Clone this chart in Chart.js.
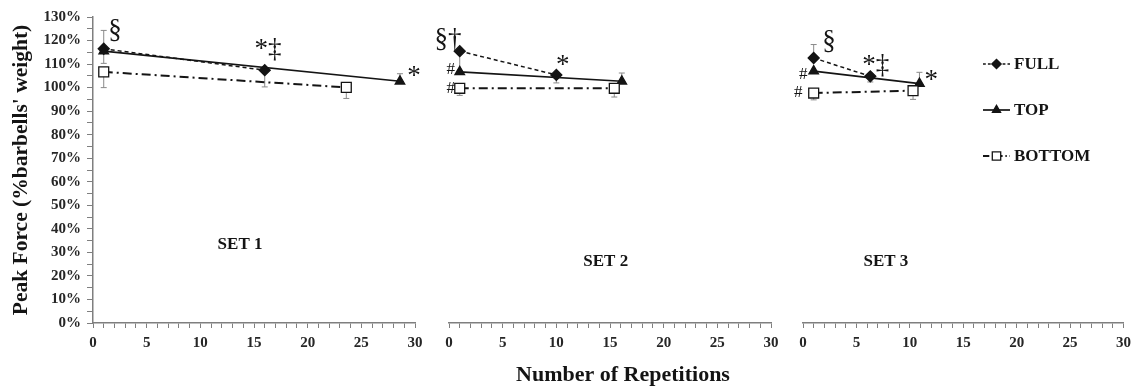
<!DOCTYPE html>
<html>
<head>
  <title>Peak Force by Repetition</title>
  <script src="https://cdn.jsdelivr.net/npm/chart.js"></script>
  <style>
    body { margin: 0; background: #fff; }
    #wrap { position: relative; width: 1137px; height: 387px; }
    #wrap canvas { position: absolute; left: 0; top: 0; }
  </style>
</head>
<body>
  <div id="wrap">
    <canvas id="set1Canvas" width="1137" height="387"></canvas>
    <canvas id="set2Canvas" width="1137" height="387"></canvas>
    <canvas id="set3Canvas" width="1137" height="387"></canvas>
  </div>

  <script>
    // series order everywhere: FULL, TOP, BOTTOM
    const seriesNames = ['FULL', 'TOP', 'BOTTOM'];
    const setNames = ['SET 1', 'SET 2', 'SET 3'];
    const xTitle = 'Number of Repetitions';
    const yTitle = "Peak Force (%barbells' weight)";

    const set1Reps    = [[1, 16], [1, 28.6], [1, 23.6]];
    const set1Force   = [[116.5, 107.4], [115.5, 102.7], [106.7, 100.1]];
    const set1ErrUp   = [[7.8, 0], [0, 3.2], [0, 0]];
    const set1ErrDown = [[0, 7.1], [5.2, 0], [6.7, 4.7]];

    const set2Reps    = [[1, 10], [1, 16.1], [1, 15.4]];
    const set2Force   = [[115.5, 105.4], [106.7, 102.7], [99.7, 99.7]];
    const set2ErrUp   = [[0, 0], [0, 3.5], [0, 0]];
    const set2ErrDown = [[8.5, 3.4], [0, 0], [3, 3.7]];

    const set3Reps    = [[1, 6.3], [1, 10.9], [1, 10.3]];
    const set3Force   = [[112.6, 104.8], [107, 101.7], [97.7, 98.7]];
    const set3ErrUp   = [[5.7, 0], [0, 4.8], [0, 0]];
    const set3ErrDown = [[0, 2.4], [0, 0], [2.9, 3.7]];

    // significance symbols: [text, reps, force]
    const set1Marks = [['§', 2.05, 124], ['*‡', 16.3, 116.2], ['*', 29.9, 104.7]];
    const set2Marks = [['§†', -0.1, 120.4], ['*', 10.6, 109.4], ['#', 0.17, 107.7], ['#', 0.17, 99.6]];
    const set3Marks = [['§', 2.43, 119.3], ['*‡', 6.8, 109.1], ['*', 12.0, 103.0], ['#', 0.03, 105.5], ['#', -0.44, 97.9]];

    // where the set label sits: [reps, force]
    const setLabelPos = [[13.7, 33.2], [14.6, 26], [7.76, 26]];

    const serif = "'Liberation Serif', 'Times New Roman', serif";
    const ink = '#141414';
    const axisGray = '#7f7f7f';

    const seriesStyle = [
      { dash: [4, 3], width: 1.5, point: 'rectRot', radius: 5.5, fill: ink },
      { dash: [], width: 1.7, point: 'triangle', radius: 5.5, fill: ink },
      { dash: [9, 4, 2, 4], width: 2, point: 'rect', radius: 7, fill: '#ffffff' }
    ];

    function drawMarker(ctx, style, x, y) {
      ctx.save();
      ctx.setLineDash([]);
      ctx.fillStyle = style.fill;
      ctx.strokeStyle = ink;
      ctx.lineWidth = 1.3;
      Chart.helpers.drawPoint(ctx, { pointStyle: style.point, rotation: 0, radius: style.radius, borderWidth: 1.3 }, x, y);
      ctx.restore();
    }

    const errorBars = {
      id: 'errorBars',
      beforeDatasetsDraw(chart) {
        const ctx = chart.ctx;
        const ys = chart.scales.y;
        ctx.save();
        ctx.strokeStyle = '#8a8a8a';
        ctx.lineWidth = 1;
        chart.data.datasets.forEach(ds => {
          ds.data.forEach((p, i) => {
            const px = chart.scales.x.getPixelForValue(p.x);
            const y0 = ys.getPixelForValue(p.y);
            [[ds.errUp[i], 1], [ds.errDown[i], -1]].forEach(([e, sgn]) => {
              if (!e) return;
              const y1 = ys.getPixelForValue(p.y + sgn * e);
              ctx.beginPath();
              ctx.moveTo(px, y0);
              ctx.lineTo(px, y1);
              ctx.moveTo(px - 3, y1);
              ctx.lineTo(px + 3, y1);
              ctx.stroke();
            });
          });
        });
        ctx.restore();
      }
    };

    const symbols = {
      id: 'symbols',
      afterDatasetsDraw(chart, args, opts) {
        const ctx = chart.ctx;
        const xs = chart.scales.x, ys = chart.scales.y;
        ctx.save();
        ctx.fillStyle = ink;
        ctx.textAlign = 'center';
        ctx.textBaseline = 'middle';
        opts.marks.forEach(([t, x, y]) => {
          ctx.font = (t === '#' ? '17px ' : '27px ') + serif;
          ctx.fillText(t, xs.getPixelForValue(x), ys.getPixelForValue(y));
        });
        ctx.font = 'bold 17px ' + serif;
        ctx.fillText(opts.label, xs.getPixelForValue(opts.labelPos[0]), ys.getPixelForValue(opts.labelPos[1]));
        if (opts.xTitle) {
          ctx.font = 'bold 22px ' + serif;
          ctx.fillText(xTitle, 623, 375);
        }
        if (opts.legend) {
          ctx.textAlign = 'left';
          ctx.font = 'bold 17px ' + serif;
          seriesNames.forEach((name, i) => {
            const st = seriesStyle[i];
            const ly = 64 + i * 46;
            ctx.save();
            ctx.strokeStyle = ink;
            ctx.lineWidth = st.width;
            ctx.setLineDash(st.dash.length ? st.dash.map(d => d * 0.7) : []);
            ctx.beginPath();
            ctx.moveTo(983, ly);
            ctx.lineTo(1010, ly);
            ctx.stroke();
            ctx.restore();
            drawMarker(ctx, Object.assign({}, st, { radius: st.radius * 0.85 }), 996.5, ly);
            ctx.fillText(name, 1014, ly + 1);
          });
        }
        ctx.restore();
      }
    };

    function makeChart(canvasId, idx, reps, force, errUp, errDown, marks, pad) {
      const datasets = seriesNames.map((name, s) => ({
        label: name,
        data: reps[s].map((r, i) => ({ x: r, y: force[s][i] })),
        errUp: errUp[s],
        errDown: errDown[s],
        showLine: true,
        borderColor: ink,
        borderWidth: seriesStyle[s].width,
        borderDash: seriesStyle[s].dash,
        pointStyle: seriesStyle[s].point,
        pointRadius: seriesStyle[s].radius,
        pointBackgroundColor: seriesStyle[s].fill,
        pointBorderColor: ink,
        pointBorderWidth: 1.3,
        order: 2 - s
      }));

      const first = idx === 0;
      return new Chart(document.getElementById(canvasId), {
        type: 'scatter',
        data: { datasets: datasets },
        options: {
          responsive: false,
          animation: false,
          devicePixelRatio: 1,
          layout: { padding: pad },
          plugins: {
            legend: { display: false },
            tooltip: { enabled: false },
            symbols: {
              marks: marks,
              label: setNames[idx],
              labelPos: setLabelPos[idx],
              xTitle: idx === 1,
              legend: idx === 2
            }
          },
          scales: {
            x: {
              type: 'linear',
              min: 0,
              max: 30,
              afterFit: s => { s.height = 64; },
              ticks: {
                stepSize: 1,
                autoSkip: false,
                maxRotation: 0,
                padding: 6,
                color: '#262626',
                font: { family: serif, size: 15, weight: 'bold' },
                callback: v => (v % 5 === 0 ? v : '')
              },
              grid: { drawOnChartArea: false, tickLength: 5, color: axisGray },
              border: { color: axisGray, width: 1.5 }
            },
            y: {
              display: first,
              min: 0,
              max: 130,
              afterFit: s => { s.width = first ? 93 : 0; },
              ticks: {
                stepSize: 5,
                autoSkip: false,
                padding: 6,
                color: '#262626',
                font: { family: serif, size: 15, weight: 'bold' },
                callback: v => (v % 10 === 0 ? v + '%' : '')
              },
              grid: { drawOnChartArea: false, tickLength: 6, color: axisGray },
              border: { color: axisGray, width: 1.5 },
              title: {
                display: true,
                text: yTitle,
                color: ink,
                padding: { top: 9, bottom: 0 },
                font: { family: serif, size: 21.5, weight: 'bold' }
              }
            }
          }
        },
        plugins: [errorBars, symbols]
      });
    }

    makeChart('set1Canvas', 0, set1Reps, set1Force, set1ErrUp, set1ErrDown, set1Marks, { left: 0, right: 722, top: 17, bottom: 0 });
    makeChart('set2Canvas', 1, set2Reps, set2Force, set2ErrUp, set2ErrDown, set2Marks, { left: 449, right: 366, top: 17, bottom: 0 });
    makeChart('set3Canvas', 2, set3Reps, set3Force, set3ErrUp, set3ErrDown, set3Marks, { left: 803, right: 13, top: 17, bottom: 0 });
  </script>
</body>
</html>
